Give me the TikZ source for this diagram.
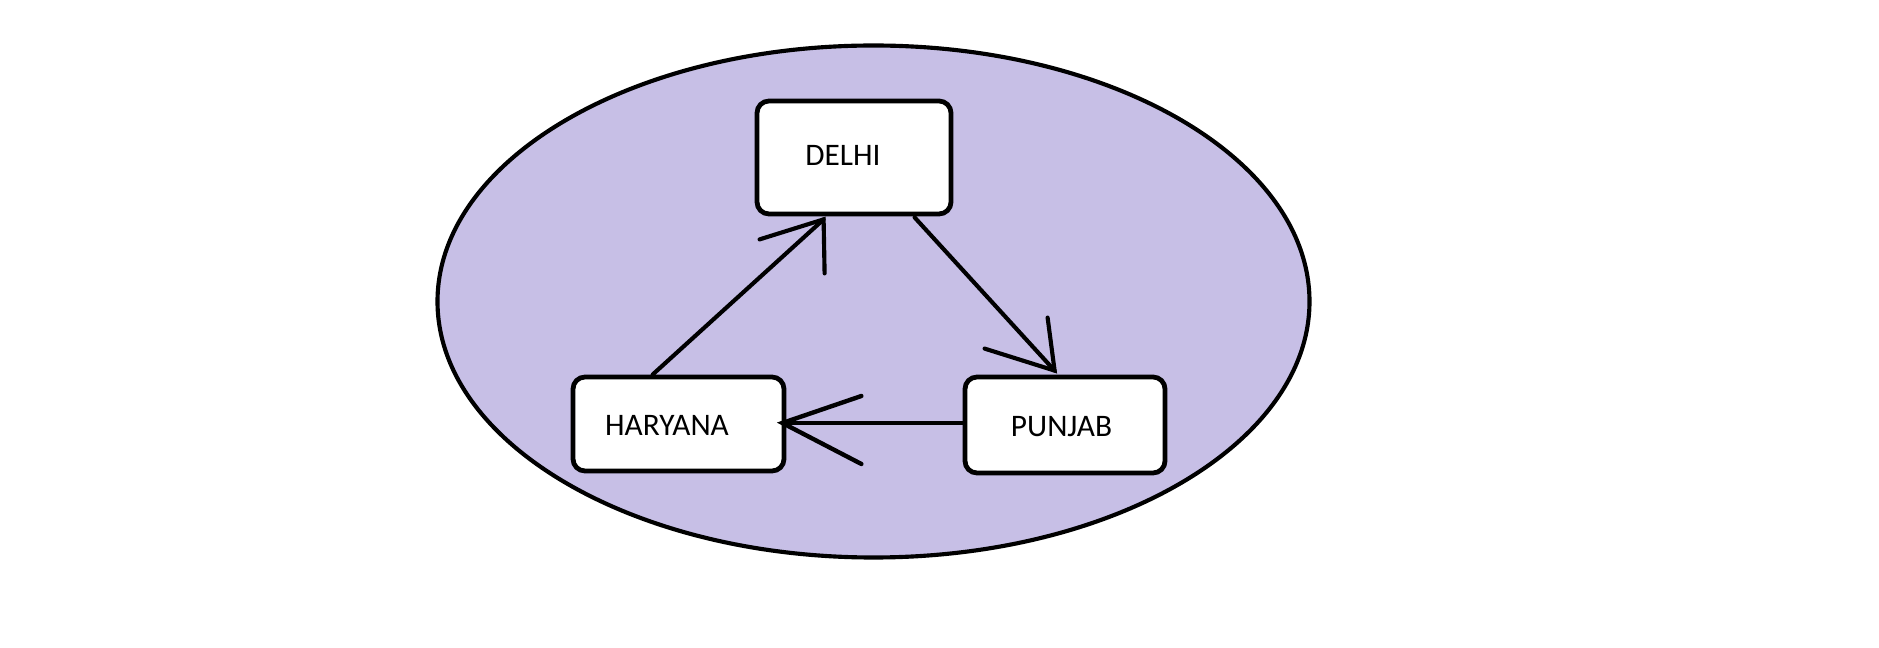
\documentclass[tikz,border=0pt]{standalone}
\usepackage{fontspec}
\setmainfont{Carlito}
\usetikzlibrary{calc}
\definecolor{lav}{RGB}{199,191,230}
\begin{document}
\begin{tikzpicture}[x=0.75pt,y=-0.75pt,
  box/.style={draw=black, line width=3.6pt, fill=white, rounded corners=9pt, inner sep=0pt},
  txt/.style={inner sep=0pt, font=\fontsize{23.5}{28}\selectfont},
  conn/.style={draw=black, line width=3.1pt, line cap=round}]
\useasboundingbox (0,0) rectangle (1879,648);
\fill[white] (0,0) rectangle (1879,648);
\draw[fill=lav, line width=3.1pt] (873.5,301.5) ellipse [x radius=327pt, y radius=192pt];
\node[box, minimum width=145.5pt, minimum height=84.75pt] (delhi) at (854,157.5) {};
\node[box, minimum width=158.25pt, minimum height=70.5pt] (har) at (678.5,424) {};
\node[box, minimum width=150pt, minimum height=72pt] (pun) at (1065,425) {};
\node[txt] (delhiT) at (843,155) {DELHI};
\node[txt] (harT) at (667,425) {HARYANA};
\node[txt] (punT) at (1061.5,427) {PUNJAB};
% Haryana -> Delhi
\coordinate (s1) at ($(har.north west)+(82,0)$);
\coordinate (t1) at ($(delhi.south west)+(69,3)$);
\coordinate (b1a) at ($(t1)+(-64,20)$);
\coordinate (b1b) at ($(t1)+(1,54)$);
\draw[conn] (s1) -- (t1);
\draw[conn] (b1a) -- (t1) -- (b1b);
% Delhi -> Punjab
\coordinate (s2) at ($(delhi.south west)+(160,1)$);
\coordinate (t2) at ($(pun.north west)+(92,-4)$);
\coordinate (b2a) at ($(t2)+(-70,-22)$);
\coordinate (b2b) at ($(t2)+(-7,-53)$);
\draw[conn] (s2) -- (t2);
\draw[conn] (b2a) -- (t2) -- (b2b);
% Punjab -> Haryana
\coordinate (s3) at ($(pun.west)+(0,-2)$);
\coordinate (t3) at ($(har.east)+(-4,-1)$);
\coordinate (b3a) at ($(t3)+(79,-27)$);
\coordinate (b3b) at ($(t3)+(79,41)$);
\draw[conn, line width=3.3pt] (s3) -- (t3);
\draw[conn, line width=3.3pt] (b3a) -- (t3) -- (b3b);
\end{tikzpicture}
\end{document}
